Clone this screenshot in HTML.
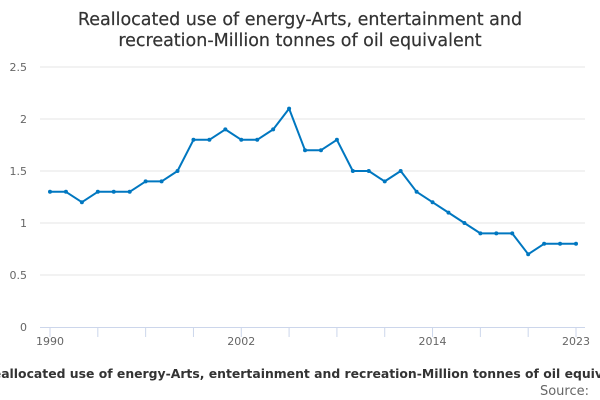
<!DOCTYPE html>
<html><head><meta charset="utf-8"><style>
html,body{margin:0;padding:0;background:#fff;}
svg{display:block;font-family:"DejaVu Sans","Liberation Sans",sans-serif;}
</style></head><body>
<svg id="chart" width="600" height="400" viewBox="0 0 600 400">
<text x="300" y="25" text-anchor="middle" font-size="17.5" fill="#333" stroke="#333" stroke-width="0.2">Reallocated use of energy-Arts, entertainment and</text>
<text x="300" y="46" text-anchor="middle" font-size="17.5" fill="#333" stroke="#333" stroke-width="0.2">recreation-Million tonnes of oil equivalent</text>
<g id="grid"></g>
<g id="xaxis"></g>
<g id="series"></g>
<text x="311" y="378" text-anchor="middle" font-size="12.4" font-weight="bold" fill="#333">Reallocated use of energy-Arts, entertainment and recreation-Million tonnes of oil equivalent</text>
<text x="589" y="395" text-anchor="end" font-size="13" fill="#666">Source:</text>
</svg>
<script>
const years = [1990,1991,1992,1993,1994,1995,1996,1997,1998,1999,2000,2001,2002,2003,2004,2005,2006,2007,2008,2009,2010,2011,2012,2013,2014,2015,2016,2017,2018,2019,2020,2021,2022,2023];
const values = [1.3,1.3,1.2,1.3,1.3,1.3,1.4,1.4,1.5,1.8,1.8,1.9,1.8,1.8,1.9,2.1,1.7,1.7,1.8,1.5,1.5,1.4,1.5,1.3,1.2,1.1,1.0,0.9,0.9,0.9,0.7,0.8,0.8,0.8];
const yTicks = [0,0.5,1,1.5,2,2.5];
const yTickLabels = ["0","0.5","1","1.5","2","2.5"];
const xTickYears = [1990,1993,1996,1999,2002,2005,2008,2011,2014,2017,2020,2023];
const xLabelYears = [1990,2002,2014,2023];

const NS="http://www.w3.org/2000/svg";
const x0=50,x1=576,yb=327,yt=67;
const xs=y=>x0+(y-years[0])/(years[years.length-1]-years[0])*(x1-x0);
const ys=v=>yb-v/2.5*(yb-yt);
function mk(tag,attrs,parent){const e=document.createElementNS(NS,tag);for(const k in attrs)e.setAttribute(k,attrs[k]);parent.appendChild(e);return e;}
const grid=document.getElementById('grid'),xa=document.getElementById('xaxis'),se=document.getElementById('series');
yTicks.forEach((t,i)=>{
  if(t>0){const l=mk('line',{x1:40,x2:585,y1:ys(t),y2:ys(t),stroke:'#e6e6e6','stroke-width':1},grid);
  
  }
  const tx=mk('text',{x:27,y:ys(t)+4,'text-anchor':'end','font-size':11,fill:'#666'},grid);
  tx.textContent=yTickLabels[i];
  
  
});
const ax=mk('line',{x1:40,x2:585,y1:yb+0.5,y2:yb+0.5,stroke:'#ccd6eb','stroke-width':1},xa);


xTickYears.forEach(y=>{
  const t=mk('line',{x1:xs(y),x2:xs(y),y1:yb,y2:yb+10,stroke:'#ccd6eb','stroke-width':1},xa);
  
  
});
xLabelYears.forEach(y=>{
  const t=mk('text',{x:xs(y),y:yb+18,'text-anchor':'middle','font-size':11,fill:'#666'},xa);
  t.textContent=String(y);
  
  
});
const d=values.map((v,i)=>(i?'L':'M')+xs(years[i]).toFixed(1)+','+ys(v).toFixed(1)).join(' ');
const p=mk('path',{d:d,fill:'none',stroke:'#0077c0','stroke-width':2,'stroke-linejoin':'round'},se);


values.forEach((v,i)=>{
  const c=mk('circle',{cx:xs(years[i]),cy:ys(v),r:2,fill:'#0077c0'},se);
  
  
});
</script>
</body></html>
